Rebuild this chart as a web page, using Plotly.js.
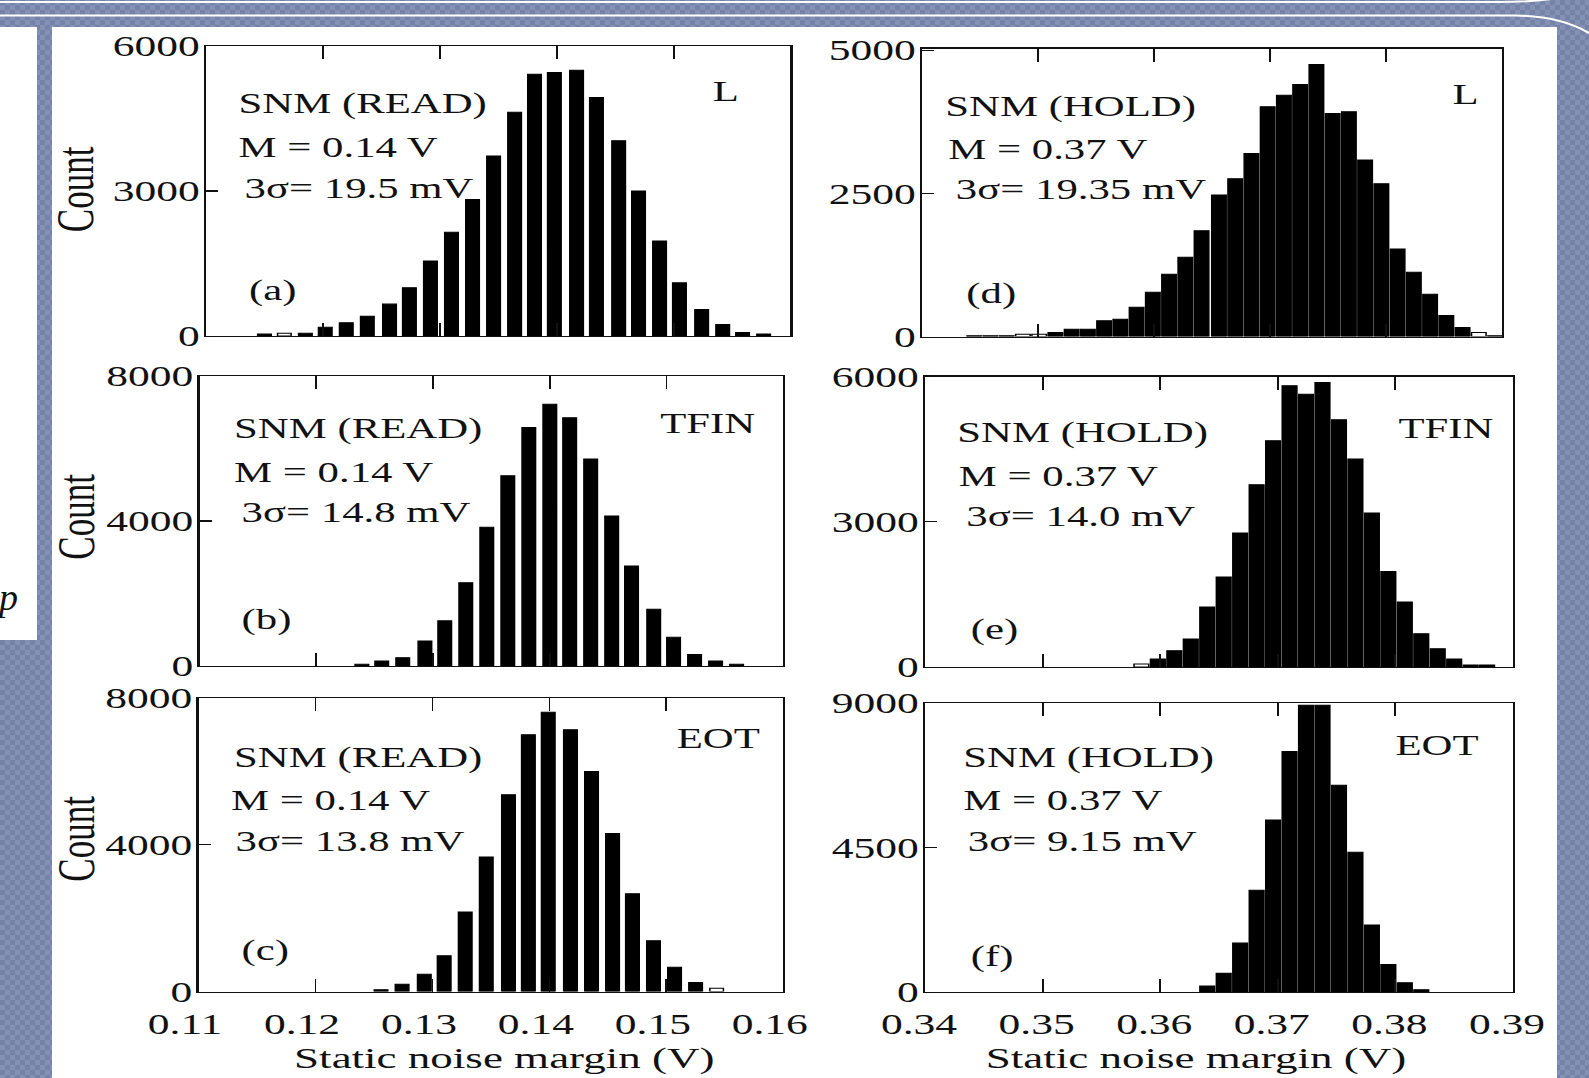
<!DOCTYPE html>
<html>
<head>
<meta charset="utf-8">
<script src="https://cdn.plot.ly/plotly-3.0.1.min.js"></script>
<style>
  html, body { margin:0; padding:0; }
  body {
    width:1589px; height:1078px; overflow:hidden; position:relative;
    background-color:#7483a7;
    background-image: conic-gradient(#8491b4 25%, transparent 0 50%, #8491b4 0 75%, transparent 0);
    background-size:10px 10px;
  }
  #mainwhite { position:absolute; left:52px; top:27px; width:1505px; height:1051px; background:#fff; }
  #leftbox { position:absolute; left:0; top:27px; width:37px; height:613px; background:#fff; overflow:hidden; }
  #leftbox span { position:absolute; left:-1px; top:548px; font-family:"Liberation Serif", serif; font-style:italic; font-size:38px; color:#111; }
  #lines { position:absolute; left:0; top:0; }
  #plot { position:absolute; left:0; top:0; width:1059px; height:1078px; transform:scaleX(1.50047); transform-origin:0 0; }
</style>
</head>
<body>
<div id="mainwhite"></div>
<div id="leftbox"><span>p</span></div>
<svg id="lines" width="1589" height="40">
  <path d="M0,2 H1500 Q1535,2 1565,-3" stroke="#ffffff" stroke-width="2" fill="none"/>
  <path d="M0,15.5 H1515 Q1560,16 1589,33" stroke="#ffffff" stroke-width="2.2" fill="none"/>
</svg>
<div id="plot"></div>
<script>
// ---------------- data ----------------
const binA = [0.1150, 0.1167, 0.1185, 0.1202, 0.1220, 0.1238, 0.1257, 0.1274, 0.1292, 0.1310, 0.1328, 0.1346, 0.1364, 0.1381, 0.1398, 0.1417, 0.1434, 0.1453, 0.1470, 0.1488, 0.1505, 0.1524, 0.1542, 0.1559, 0.1577];
const countA = [40, 55, 55, 180, 275, 410, 660, 1000, 1550, 2145, 2825, 3725, 4630, 5415, 5450, 5500, 4935, 4040, 3000, 1965, 1100, 550, 240, 70, 40];

const binB = [0.1239, 0.1256, 0.1274, 0.1293, 0.1310, 0.1328, 0.1346, 0.1364, 0.1382, 0.1400, 0.1417, 0.1435, 0.1453, 0.1470, 0.1489, 0.1506, 0.1524, 0.1542, 0.1560];
const countB = [45, 137, 230, 690, 1245, 2300, 3830, 5250, 6580, 7220, 6850, 5710, 4140, 2760, 1565, 790, 320, 137, 45];

const binC = [0.1256, 0.1274, 0.1293, 0.1310, 0.1328, 0.1346, 0.1365, 0.1382, 0.1399, 0.1418, 0.1436, 0.1454, 0.1471, 0.1489, 0.1507, 0.1525, 0.1543];
const countC = [45, 200, 473, 973, 2164, 3664, 5364, 7000, 7609, 7136, 6000, 4309, 2664, 1382, 664, 245, 90];

const binD = [0.3445, 0.3459, 0.3473, 0.3487, 0.3501, 0.3515, 0.3529, 0.3543, 0.3557, 0.3571, 0.3585, 0.3599, 0.3613, 0.3627, 0.3641, 0.3656, 0.3670, 0.3684, 0.3698, 0.3712, 0.3726, 0.3740, 0.3754, 0.3768, 0.3782, 0.3796, 0.3810, 0.3824, 0.3838, 0.3852, 0.3866, 0.3880, 0.3894];
const countD = [12, 12, 12, 41, 41, 70, 128, 128, 273, 302, 512, 773, 1087, 1384, 1849, 2471, 2756, 3198, 4012, 4215, 4401, 4750, 3895, 3924, 3081, 2669, 1529, 1122, 738, 366, 157, 70, 12];

const binE = [0.3584, 0.3598, 0.3612, 0.3626, 0.3640, 0.3654, 0.3668, 0.3682, 0.3696, 0.3710, 0.3724, 0.3738, 0.3752, 0.3766, 0.3780, 0.3794, 0.3808, 0.3822, 0.3836, 0.3850, 0.3864, 0.3878];
const countE = [62, 165, 337, 578, 1239, 1858, 2766, 3764, 4672, 5807, 5635, 5876, 5106, 4294, 3179, 1975, 1342, 688, 378, 165, 41, 41];

const binF = [0.3640, 0.3654, 0.3668, 0.3682, 0.3696, 0.3710, 0.3724, 0.3738, 0.3752, 0.3766, 0.3780, 0.3794, 0.3808, 0.3822];
const countF = [185, 587, 1524, 3172, 5355, 7487, 8929, 8929, 6436, 4355, 2090, 855, 288, 72];

const readTicks = [0.11, 0.12, 0.13, 0.14, 0.15, 0.16];
const readTickText = ["0.11", "0.12", "0.13", "0.14", "0.15", "0.16"];
const holdTicks = [0.34, 0.35, 0.36, 0.37, 0.38, 0.39];
const holdTickText = ["0.34", "0.35", "0.36", "0.37", "0.38", "0.39"];

const yTicksA = [0, 3000, 6000];
const yTicksB = [0, 4000, 8000];
const yTicksC = [0, 4000, 8000];
const yTicksD = [0, 2500, 5000];
const yTicksE = [0, 3000, 6000];
const yTicksF = [0, 4500, 9000];

const titleText = ["SNM (READ)", "SNM (READ)", "SNM (READ)", "SNM (HOLD)", "SNM (HOLD)", "SNM (HOLD)"];
const meanText = ["M = 0.14 V", "M = 0.14 V", "M = 0.14 V", "M = 0.37 V", "M = 0.37 V", "M = 0.37 V"];
const sigmaText = ["3σ= 19.5 mV", "3σ= 14.8 mV", "3σ= 13.8 mV", "3σ= 19.35 mV", "3σ= 14.0 mV", "3σ= 9.15 mV"];
const paramText = ["L", "TFIN", "EOT", "L", "TFIN", "EOT"];
const letterText = ["(a)", "(b)", "(c)", "(d)", "(e)", "(f)"];
const yTitle = "Count";
const xTitle = "Static noise margin (V)";

// ---------------- styling / layout ----------------
const FONT = '"Liberation Serif", "Times New Roman", serif';
const hollow = [[1], [], [16], [3, 4, 31], [0], []];
const bins = [binA, binB, binC, binD, binE, binF];
const counts = [countA, countB, countC, countD, countE, countF];
const yt = [yTicksA, yTicksB, yTicksC, yTicksD, yTicksE, yTicksF];
const yMax = [6000, 8000, 8000, 5030, 6000, 9000];
const xRange = [[0.11, 0.16], [0.11, 0.16], [0.11, 0.16], [0.34, 0.39], [0.34, 0.39], [0.34, 0.39]];
const barW = [0.00116, 0.00116, 0.00116, 0.00125, 0.00125, 0.00125];
const W = 1589, H = 1078;
// panel boxes in final pixels [left, right, top, bottom]
const box = [
  [206, 790.5, 46, 336],
  [199.6, 783.3, 376, 666],
  [198.6, 783.3, 698, 991.5],
  [922, 1502, 48.5, 336.5],
  [925, 1513, 376.5, 667],
  [925, 1513, 703, 992]
];

const traces = [];
const layout = {
  width: 1059, height: 1078,
  margin: {l: 0, r: 0, t: 0, b: 0},
  paper_bgcolor: 'rgba(0,0,0,0)', plot_bgcolor: 'rgba(0,0,0,0)',
  showlegend: false,
  font: {family: FONT, color: '#000', size: 29},
  annotations: []
};

for (let i = 0; i < 6; i++) {
  const n = i + 1;
  const xa = 'x' + (n === 1 ? '' : n), ya = 'y' + (n === 1 ? '' : n);
  const colors = counts[i].map((_, k) => hollow[i].includes(k) ? '#ffffff' : '#000000');
  traces.push({
    type: 'bar', x: bins[i], y: counts[i], xaxis: xa, yaxis: ya,
    width: barW[i],
    marker: {color: colors, line: {color: '#000', width: 1}}
  });
  const b = box[i];
  const bottomRow = (i === 2 || i === 5);
  const isRead = i < 3;
  layout['xaxis' + (n === 1 ? '' : n)] = {
    domain: [b[0] / W, b[1] / W], anchor: ya, range: xRange[i],
    showline: true, linecolor: '#111', linewidth: 1.4, mirror: 'ticks',
    ticks: 'inside', ticklen: 13, tickwidth: 1.2, tickcolor: '#111',
    tickmode: 'array', tickvals: isRead ? readTicks : holdTicks,
    ticktext: isRead ? readTickText : holdTickText,
    showticklabels: bottomRow, tickfont: {size: 29, family: FONT, color: '#111'},
    ticklabelstandoff: 6, ticklabelshift: isRead ? -9 : -4,
    showgrid: false, zeroline: false, fixedrange: true
  };
  layout['yaxis' + (n === 1 ? '' : n)] = {
    domain: [1 - b[3] / H, 1 - b[2] / H], anchor: xa, range: [0, yMax[i]],
    showline: true, linecolor: '#111', linewidth: 1.4, mirror: true,
    ticks: 'inside', ticklen: 8, tickwidth: 1.2, tickcolor: '#111',
    tickmode: 'array', tickvals: yt[i], ticktext: yt[i].map(String),
    tickfont: {size: 29, family: FONT, color: '#111'},
    ticklabelstandoff: -3,
    showgrid: false, zeroline: false, fixedrange: true
  };
}

// text positions in final pixels
const txtPos = [
  {t: [235, 104.4], m: [235, 147], s: [241, 188.5], p: [741, 91.2], l: [246, 291]},
  {t: [231, 428.7], m: [231, 472], s: [238, 512.8], p: [758, 423.6], l: [239, 620]},
  {t: [231, 758], m: [228, 800.6], s: [233, 841], p: [762, 738.8], l: [238, 950.6]},
  {t: [942.5, 107.4], m: [945.5, 150], s: [952.6, 189.5], p: [1480.6, 94.2], l: [962.7, 294]},
  {t: [954.6, 432.7], m: [955.6, 476.3], s: [962.7, 516.8], p: [1495.8, 428.7], l: [967.8, 630.3]},
  {t: [959.7, 758], m: [959.7, 800.6], s: [964.7, 841], p: [1480.6, 745.9], l: [967.8, 956.7]}
];
function ann(text, px, py, xanchor, size, angle) {
  const a = {text: text, xref: 'paper', yref: 'paper', x: px / W, y: 1 - py / H,
    xanchor: xanchor, yanchor: 'middle', showarrow: false,
    font: {family: FONT, size: size, color: '#111'}};
  if (angle !== undefined) a.textangle = angle;
  layout.annotations.push(a);
}
for (let i = 0; i < 6; i++) {
  const p = txtPos[i];
  ann(titleText[i], p.t[0], p.t[1], 'left', 28.5);
  ann(meanText[i], p.m[0], p.m[1], 'left', 28.5);
  ann(sigmaText[i], p.s[0], p.s[1], 'left', 28.5);
  ann(paramText[i], p.p[0], p.p[1], 'right', 28.5);
  ann(letterText[i], p.l[0], p.l[1], 'left', 28.5);
}
ann(yTitle, 76, 189.5, 'center', 35, -90);
ann(yTitle, 76, 517, 'center', 35, -90);
ann(yTitle, 76, 839, 'center', 35, -90);
ann(xTitle, 504.7, 1058, 'center', 30);
ann(xTitle, 1195.8, 1058, 'center', 30);

Plotly.newPlot('plot', traces, layout, {staticPlot: true, displayModeBar: false});
</script>
</body>
</html>
